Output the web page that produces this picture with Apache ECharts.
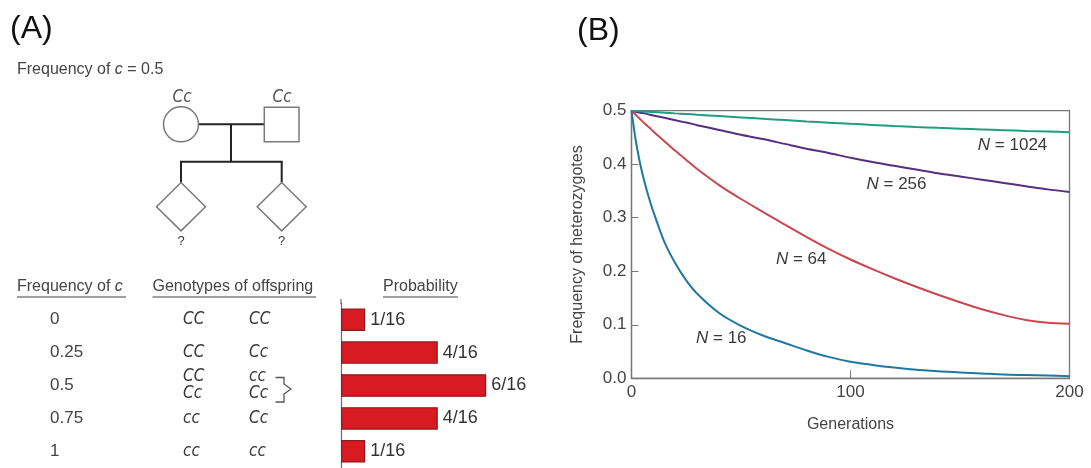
<!DOCTYPE html>
<html>
<head>
<meta charset="utf-8">
<title>Genetic drift</title>
<script src="https://cdn.jsdelivr.net/npm/echarts@6/dist/echarts.min.js"></script>
<style>
  html, body { margin: 0; padding: 0; background: #fff; }
  #chart { width: 1091px; height: 468px; }
</style>
</head>
<body>
<div id="chart"></div>
<script>
// panel A - offspring of two Cc parents
var freqC = ["0", "0.25", "0.5", "0.75", "1"];
var genoLeft = ["CC", "CC", ["CC", "Cc"], "cc", "cc"];
var genoRight = ["CC", "Cc", ["cc", "Cc"], "Cc", "cc"];
var probSixteenths = [1, 4, 6, 4, 1];

// panel B - frequency of heterozygotes
var generations = [0, 1, 2, 4, 6, 8, 10, 15, 20, 25, 30, 40, 50, 60, 70, 80, 90, 100, 110, 120, 130, 140, 150, 160, 170, 180, 190, 200];
var het16 = [0.5, 0.47, 0.443, 0.4, 0.366, 0.337, 0.311, 0.255, 0.215, 0.183, 0.158, 0.122, 0.098, 0.08, 0.066, 0.052, 0.04, 0.031, 0.025, 0.02, 0.016, 0.013, 0.011, 0.009, 0.007, 0.006, 0.005, 0.004];
var het64 = [0.5, 0.496, 0.492, 0.484, 0.476, 0.469, 0.461, 0.443, 0.425, 0.408, 0.391, 0.361, 0.335, 0.311, 0.287, 0.264, 0.242, 0.222, 0.204, 0.187, 0.171, 0.156, 0.142, 0.129, 0.118, 0.109, 0.104, 0.102];
var het256 = [0.5, 0.499, 0.498, 0.496, 0.495, 0.493, 0.491, 0.487, 0.482, 0.478, 0.473, 0.464, 0.455, 0.447, 0.438, 0.429, 0.421, 0.412, 0.404, 0.397, 0.39, 0.383, 0.377, 0.371, 0.365, 0.359, 0.353, 0.348];
var het1024 = [0.5, 0.4998, 0.4995, 0.499, 0.4985, 0.498, 0.4975, 0.4963, 0.495, 0.4938, 0.4925, 0.49, 0.4875, 0.485, 0.4825, 0.48, 0.4777, 0.4755, 0.4735, 0.4715, 0.4697, 0.468, 0.4664, 0.4649, 0.4635, 0.4622, 0.461, 0.4598];

var FONT = "'Liberation Sans', Arial, sans-serif";
var NARROW = "'Liberation Sans Narrow', 'DejaVu Sans Condensed', 'Liberation Sans', sans-serif";
var TXT = "#3a3a3a";

// table rows line up with the bar grid
var A_TOP = 303.25, A_BAND = 32.9;
function rowY(i) { return A_TOP + A_BAND * (i + 0.5); }

function pairs(ys) {
  return generations.map(function (g, i) { return [g, ys[i]]; });
}

function txt(s, x, y, font, align, extra) {
  var st = { text: s, x: x, y: y, font: font, fill: TXT, textAlign: align || "left", textVerticalAlign: "middle" };
  if (extra) { for (var k in extra) st[k] = extra[k]; }
  return { type: "text", silent: true, style: st };
}
function seg(x1, y1, x2, y2, color, w) {
  return { type: "line", silent: true, shape: { x1: x1, y1: y1, x2: x2, y2: y2 }, style: { stroke: color, lineWidth: w } };
}

var symStyle = { stroke: "#7a7a7a", lineWidth: 1.5, fill: "#fff" };
var richHead = {
  r: { fontSize: 16, fontFamily: FONT, fill: "#444" },
  i: { fontSize: 16, fontFamily: FONT, fontStyle: "italic", fill: "#444" }
};
var graphics = [
  txt("(A)", 10, 29, "32px " + FONT, "left", { fill: "#111" }),
  txt("(B)", 577, 31, "32px " + FONT, "left", { fill: "#111" }),
  txt("{r|Frequency of }{i|c}{r| = 0.5}", 17, 70, "16px " + FONT, "left", { rich: richHead }),
  // pedigree
  seg(198.5, 124.3, 264.3, 124.3, "#222", 2),
  seg(231, 124.3, 231, 161.7, "#222", 2),
  seg(180, 161.7, 282.7, 161.7, "#222", 2),
  seg(181, 161.7, 181, 182.5, "#222", 2),
  seg(281.7, 161.7, 281.7, 182.5, "#222", 2),
  { type: "circle", silent: true, shape: { cx: 181, cy: 124.3, r: 17.5 }, style: symStyle },
  { type: "rect", silent: true, shape: { x: 264.3, y: 107.3, width: 34.7, height: 34.4 }, style: symStyle },
  { type: "polygon", silent: true, shape: { points: [[181, 182.5], [205.5, 206.7], [181, 230.9], [156.5, 206.7]] }, style: symStyle },
  { type: "polygon", silent: true, shape: { points: [[281.7, 182.5], [306.2, 206.7], [281.7, 230.9], [257.2, 206.7]] }, style: symStyle },
  txt("Cc", 182, 97.7, "italic 17px " + NARROW, "center", { fill: "#555" }),
  txt("Cc", 282, 97.7, "italic 17px " + NARROW, "center", { fill: "#555" }),
  txt("?", 181, 241, "13px " + FONT, "center"),
  txt("?", 281.7, 241, "13px " + FONT, "center"),
  // table headers
  txt("{r|Frequency of }{i|c}", 17, 286.7, "16px " + FONT, "left", { rich: richHead }),
  txt("Genotypes of offspring", 152.5, 286.7, "16px " + FONT, "left", { fill: "#444" }),
  txt("Probability", 383, 286.7, "16px " + FONT, "left", { fill: "#444" }),
  seg(17, 297, 126, 297, "#808080", 1.5),
  seg(152.5, 297, 316, 297, "#808080", 1.5),
  seg(383, 297, 458, 297, "#808080", 1.5),
  seg(341, 299, 341, 304, "#6a6a6a", 1.2),
  // bracket grouping the two middle genotypes
  { type: "polyline", silent: true, shape: { points: [[275.5, 377.5], [284, 377.5], [284, 384], [291, 389], [284, 394], [284, 402], [275.5, 402]] },
    style: { stroke: "#555", lineWidth: 1.3, fill: null } }
];

function addGeno(list, x) {
  list.forEach(function (g, i) {
    if (Array.isArray(g)) {
      graphics.push(txt(g[0], x, rowY(i) - 8.5, "italic 17px " + NARROW, "left"));
      graphics.push(txt(g[1], x, rowY(i) + 8.5, "italic 17px " + NARROW, "left"));
    } else {
      graphics.push(txt(g, x, rowY(i), "italic 17px " + NARROW, "left"));
    }
  });
}
addGeno(genoLeft, 183);
addGeno(genoRight, 249);

function nLabel(n) {
  return {
    show: true,
    position: "inside",
    formatter: "{i|N}{r| = " + n + "}",
    rich: {
      i: { fontSize: 17, fontFamily: FONT, fontStyle: "italic", color: TXT },
      r: { fontSize: 17, fontFamily: FONT, color: TXT }
    }
  };
}
function curve(name, ys, color, at) {
  return {
    name: name,
    type: "line",
    xAxisIndex: 1,
    yAxisIndex: 1,
    data: pairs(ys),
    smooth: 0.3,
    showSymbol: false,
    silent: true,
    lineStyle: { color: color, width: 2 },
    itemStyle: { color: color },
    markPoint: {
      silent: true,
      symbol: "rect",
      symbolSize: 1,
      itemStyle: { color: "rgba(0,0,0,0)" },
      label: nLabel(name),
      data: [{ coord: at }]
    }
  };
}

var chart = echarts.init(document.getElementById("chart"));
var option = {
  animation: false,
  backgroundColor: "#fff",
  textStyle: { fontFamily: FONT },
  grid: [
    { left: 341, top: A_TOP, width: 242, height: A_BAND * 5 },
    { left: 631.5, right: 21.5, top: 110.7, bottom: 89.7, show: true, borderColor: "#777", borderWidth: 1.3 }
  ],
  xAxis: [
    { gridIndex: 0, type: "value", min: 0, max: 10, show: false },
    {
      gridIndex: 1, type: "value", min: 0, max: 200, interval: 100,
      name: "Generations", nameLocation: "middle", nameGap: 38,
      nameTextStyle: { fontSize: 16, color: "#444", fontFamily: FONT },
      axisLine: { lineStyle: { color: "#777", width: 1.3 } },
      axisTick: { inside: true, length: 8, lineStyle: { color: "#777" } },
      axisLabel: { fontSize: 17, color: "#444", margin: 6, fontFamily: FONT },
      splitLine: { show: false }
    }
  ],
  yAxis: [
    {
      gridIndex: 0, type: "category", data: freqC, inverse: true,
      axisLine: { show: true, lineStyle: { color: "#6a6a6a", width: 1.2 } },
      axisTick: { show: false },
      axisLabel: { align: "left", margin: 291, fontSize: 17, color: "#444", fontFamily: FONT }
    },
    {
      gridIndex: 1, type: "value", min: 0, max: 0.5, interval: 0.1,
      name: "Frequency of heterozygotes", nameLocation: "middle", nameGap: 46,
      nameTextStyle: { fontSize: 16, color: "#444", fontFamily: FONT },
      axisLine: { show: true, lineStyle: { color: "#777", width: 1.3 } },
      axisTick: { show: true, inside: true, length: 7, lineStyle: { color: "#777" } },
      axisLabel: { fontSize: 17, color: "#444", margin: 5, fontFamily: FONT, formatter: function (v) { return v.toFixed(1); } },
      splitLine: { show: false }
    }
  ],
  series: [
    {
      type: "bar",
      xAxisIndex: 0,
      yAxisIndex: 0,
      data: probSixteenths,
      barWidth: 22.5,
      silent: true,
      itemStyle: { color: "#d81b23", borderColor: "#8e1b1b", borderWidth: 1.2 },
      label: {
        show: true, position: "right", distance: 5,
        fontSize: 18, color: "#333", fontFamily: FONT,
        formatter: function (p) { return p.value + "/16"; }
      }
    },
    curve("16", het16, "#1f78a2", [41, 0.075]),
    curve("64", het64, "#c9474f", [77.5, 0.223]),
    curve("256", het256, "#55307f", [121, 0.363]),
    curve("1024", het1024, "#1f9f80", [174, 0.436])
  ],
  graphic: graphics
};
chart.setOption(option);
window.addEventListener("resize", function () { chart.resize(); });
</script>
</body>
</html>
